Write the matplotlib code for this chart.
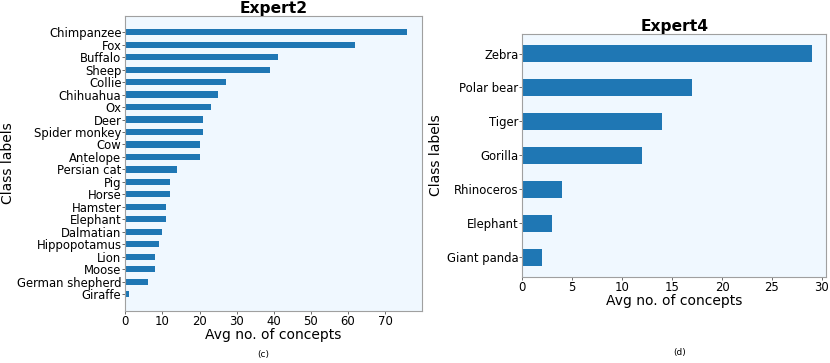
import numpy as np
import matplotlib.pyplot as plt

# Expert2 (top to bottom)
labels2 = ['Chimpanzee', 'Fox', 'Buffalo', 'Sheep', 'Collie', 'Chihuahua', 'Ox',
           'Deer', 'Spider monkey', 'Cow', 'Antelope', 'Persian cat', 'Pig',
           'Horse', 'Hamster', 'Elephant', 'Dalmatian', 'Hippopotamus', 'Lion',
           'Moose', 'German shepherd', 'Giraffe']
values2 = [76, 62, 41, 39, 27, 25, 23, 21, 21, 20, 20, 14, 12, 12, 11, 11, 10,
           9, 8, 8, 6, 1]

# Expert4 (top to bottom)
labels4 = ['Zebra', 'Polar bear', 'Tiger', 'Gorilla', 'Rhinoceros', 'Elephant',
           'Giant panda']
values4 = [29, 17, 14, 12, 4, 3, 2]

bar_color = '#1f77b4'
bg = '#f0f8ff'

fig = plt.figure(figsize=(8.3, 3.63), dpi=100)


def draw(ax, labels, values, title, ylab_x):
    ax.barh(labels[::-1], values[::-1], height=0.5, color=bar_color)
    ax.set_facecolor(bg)
    ax.set_title(title, fontsize=11.2, fontweight='bold', pad=1.5)
    ax.set_xlabel('Avg no. of concepts', fontsize=10, labelpad=0.5)
    ax.set_ylabel('Class labels', fontsize=10)
    ax.yaxis.set_label_coords(ylab_x, 0.5)
    ax.tick_params(labelsize=8.4, length=2, pad=0.8, width=0.6, color='#555555')
    for s in ax.spines.values():
        s.set_color('#a0a0a0')
        s.set_linewidth(0.8)


ax1 = fig.add_axes([0.151, 0.1441, 0.3569, 0.8127])
draw(ax1, labels2, values2, 'Expert2', -0.372)

ax2 = fig.add_axes([0.6293, 0.2377, 0.3663, 0.6686])
draw(ax2, labels4, values4, 'Expert4', -0.261)
ax2.set_xticks([0, 5, 10, 15, 20, 25, 30])

fig.text(263 / 830, 1 - 355 / 363, '(c)', fontsize=6.5, ha='center', va='center')
fig.text(680 / 830, 1 - 353 / 363, '(d)', fontsize=6.5, ha='center', va='center')

fig.savefig('out.png', dpi=100)
